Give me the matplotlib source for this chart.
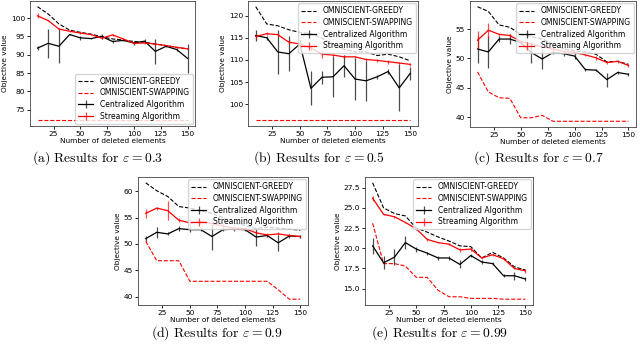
import matplotlib
matplotlib.use("Agg")
import matplotlib.pyplot as plt
from matplotlib.ticker import MultipleLocator

plt.rcParams['mathtext.fontset'] = 'cm'
plt.rcParams['axes.unicode_minus'] = False

x = [10, 20, 30, 40, 50, 60, 70, 80, 90, 100, 110, 120, 130, 140, 150]

# (a) eps = 0.3
greedy_a = [103.1, 101.1, 98.4, 96.7, 96.1, 95.6, 94.9, 94.3, 94.0, 93.6, 93.4, 92.9, 92.5, 92.0, 91.6]
swap_a = [72.1, 72.1, 72.1, 72.1, 72.1, 72.1, 72.1, 72.1, 72.1, 72.1, 72.1, 72.1, 72.1, 72.1, 72.1]
stream_a = [100.6, 99.3, 97.0, 96.4, 95.9, 95.5, 94.5, 95.4, 94.3, 93.1, 93.2, 92.9, 92.5, 92.0, 91.6]
stream_err_a = [0.7, 0.2, 0.3, 0.2, 0.2, 0.2, 0.3, 0.2, 0.2, 0.3, 0.2, 0.2, 0.2, 0.2, 0.2]
cent_a = [91.8, 93.1, 92.3, 95.5, 94.6, 94.4, 95.0, 93.6, 93.9, 93.2, 93.7, 90.9, 92.3, 91.4, 89.0]
cent_err_a = [0.6, 4.0, 4.6, 0.2, 0.5, 0.2, 0.6, 0.5, 0.2, 0.5, 0.5, 3.5, 0.2, 0.3, 4.0]

# (b) eps = 0.5
greedy_b = [122.0, 118.1, 117.7, 116.8, 116.2, 115.9, 114.9, 113.6, 112.4, 111.8, 111.8, 111.0, 111.3, 110.7, 109.8]
swap_b = [96.4, 96.4, 96.4, 96.4, 96.4, 96.4, 96.4, 96.4, 96.4, 96.4, 96.4, 96.4, 96.4, 96.4, 96.4]
stream_b = [115.3, 115.9, 115.7, 114.0, 113.6, 112.7, 111.3, 111.1, 110.7, 110.7, 110.1, 109.9, 109.6, 109.3, 109.0]
stream_err_b = [0.6, 0.3, 0.3, 0.4, 0.8, 0.6, 0.8, 0.3, 0.4, 0.3, 0.3, 0.3, 0.4, 0.3, 0.3]
cent_b = [115.5, 115.0, 111.8, 111.4, 113.6, 103.6, 106.1, 106.2, 108.7, 105.7, 105.3, 106.2, 107.4, 103.7, 107.0]
cent_err_b = [1.2, 0.5, 5.0, 4.0, 1.0, 3.8, 1.5, 4.6, 2.5, 4.7, 4.5, 0.4, 0.5, 5.3, 1.5]

# (c) eps = 0.7
greedy_c = [58.8, 58.0, 55.7, 55.3, 54.1, 53.7, 53.3, 52.4, 51.6, 51.3, 51.1, 50.7, 49.4, 49.5, 49.0]
swap_c = [47.7, 44.3, 43.3, 43.2, 39.9, 39.9, 40.3, 39.3, 39.3, 39.3, 39.3, 39.3, 39.3, 39.3, 39.3]
stream_c = [53.1, 54.8, 54.1, 53.9, 52.9, 52.4, 52.0, 51.6, 51.2, 51.0, 50.6, 50.1, 49.3, 49.5, 48.8]
stream_err_c = [1.5, 1.3, 0.3, 0.3, 0.3, 0.3, 0.3, 0.3, 0.3, 0.2, 0.2, 0.3, 0.3, 0.2, 0.2]
cent_c = [51.6, 51.1, 53.3, 53.3, 52.7, 51.0, 49.9, 51.0, 50.8, 50.4, 48.1, 48.0, 46.4, 47.6, 47.3]
cent_err_c = [2.3, 2.8, 0.5, 0.8, 0.3, 1.7, 1.7, 0.3, 0.4, 0.5, 0.2, 0.2, 1.2, 0.2, 0.3]

# (d) eps = 0.9
greedy_d = [61.6, 60.1, 59.0, 57.1, 56.8, 56.3, 55.8, 55.0, 54.0, 53.5, 52.9, 53.2, 53.0, 52.8, 52.6]
swap_d = [50.5, 46.8, 46.8, 46.8, 42.9, 42.9, 42.9, 42.9, 42.9, 42.9, 42.9, 42.9, 41.3, 39.5, 39.5]
stream_d = [55.8, 56.8, 56.3, 54.5, 54.0, 54.2, 53.9, 53.4, 53.0, 52.9, 52.1, 51.7, 51.9, 51.6, 51.4]
stream_err_d = [0.8, 0.3, 1.8, 0.4, 0.8, 0.3, 0.5, 0.3, 0.3, 0.3, 0.3, 0.3, 0.3, 0.2, 0.2]
cent_d = [51.0, 52.2, 51.9, 52.9, 52.7, 52.7, 51.4, 52.7, 52.8, 52.7, 51.3, 51.6, 50.2, 51.5, 51.4]
cent_err_d = [0.5, 1.0, 0.3, 0.5, 0.5, 0.3, 2.5, 0.3, 0.3, 0.3, 1.7, 0.3, 1.5, 0.3, 0.3]

# (e) eps = 0.99
greedy_e = [28.1, 25.0, 24.3, 24.0, 22.5, 22.0, 21.4, 20.9, 20.3, 20.2, 18.8, 19.5, 18.8, 17.7, 17.3]
swap_e = [23.1, 18.1, 18.1, 17.8, 16.4, 16.4, 14.8, 14.0, 14.0, 13.8, 13.8, 13.8, 13.7, 13.7, 13.7]
stream_e = [26.2, 24.2, 23.9, 23.2, 22.4, 21.1, 20.7, 20.5, 19.8, 19.9, 18.8, 19.2, 18.7, 17.5, 17.2]
stream_err_e = [0.3, 0.1, 0.1, 0.1, 0.1, 0.2, 0.1, 0.1, 0.2, 0.2, 0.1, 0.1, 0.1, 0.1, 0.2]
cent_e = [20.3, 18.2, 18.9, 20.7, 19.9, 19.4, 18.8, 18.8, 18.0, 19.1, 18.3, 18.1, 16.6, 16.6, 16.2]
cent_err_e = [1.0, 0.8, 1.0, 0.8, 0.3, 0.2, 0.3, 0.3, 0.5, 0.2, 0.2, 0.2, 0.2, 0.5, 0.2]

captions = ["(a) Results for $\\varepsilon = 0.3$", "(b) Results for $\\varepsilon = 0.5$",
            "(c) Results for $\\varepsilon = 0.7$", "(d) Results for $\\varepsilon = 0.9$",
            "(e) Results for $\\varepsilon = 0.99$"]

panels = [
    (greedy_a, swap_a, cent_a, cent_err_a, stream_a, stream_err_a, 'lower right', 5),
    (greedy_b, swap_b, cent_b, cent_err_b, stream_b, stream_err_b, 'upper right', 5),
    (greedy_c, swap_c, cent_c, cent_err_c, stream_c, stream_err_c, 'upper right', 5),
    (greedy_d, swap_d, cent_d, cent_err_d, stream_d, stream_err_d, 'upper right', 5),
    (greedy_e, swap_e, cent_e, cent_err_e, stream_e, stream_err_e, 'upper right', 2.5),
]

W, H = 640, 345
# axes boxes in pixels: left, top, right, bottom
boxes = [(30, 1, 195, 126), (248, 1, 418, 126), (470, 1, 636, 127),
         (138, 177, 308, 305), (365, 177, 533, 305)]
cap_pos = [(98, 158), (319, 158), (538, 158), (217, 333), (440, 333)]

fig = plt.figure(figsize=(W / 100, H / 100), dpi=100)
fs = 5.3

for i in range(5):
    g, s, c, ce, st, ste, loc, step = panels[i]
    l, t, r, b = boxes[i]
    ax = fig.add_axes([l / W, 1 - b / H, (r - l) / W, (b - t) / H])
    ax.plot(x, g, 'k--', lw=0.8, label='OMNISCIENT-GREEDY')
    ax.plot(x, s, 'r--', lw=0.8, label='OMNISCIENT-SWAPPING')
    ax.errorbar(x, c, yerr=ce, color='k', lw=0.9, elinewidth=0.9,
                ecolor=(0, 0, 0, 0.7), label='Centralized Algorithm')
    ax.errorbar(x, st, yerr=ste, color='red', lw=0.9, elinewidth=0.9,
                ecolor=(1, 0, 0, 0.7), label='Streaming Algorithm')
    ax.set_xticks([25, 50, 75, 100, 125, 150])
    ax.yaxis.set_major_locator(MultipleLocator(step))
    ax.tick_params(labelsize=fs, length=2, width=0.6, pad=1.5)
    for sp in ax.spines.values():
        sp.set_linewidth(0.6)
        sp.set_color('#444444')
    ax.set_xlabel('Number of deleted elements', fontsize=fs, labelpad=1)
    ax.set_ylabel('Objective value', fontsize=fs, labelpad=2)
    ax.legend(loc=loc, fontsize=5.5, handlelength=2.0, borderpad=0.4, labelspacing=0.35,
              borderaxespad=0.3, framealpha=0.8, fancybox=True)
    cx, cy = cap_pos[i]
    fig.text(cx / W, 1 - cy / H, captions[i], fontsize=9.8, family='cmr10',
             ha='center', va='center')

fig.savefig('out.png', dpi=100)
